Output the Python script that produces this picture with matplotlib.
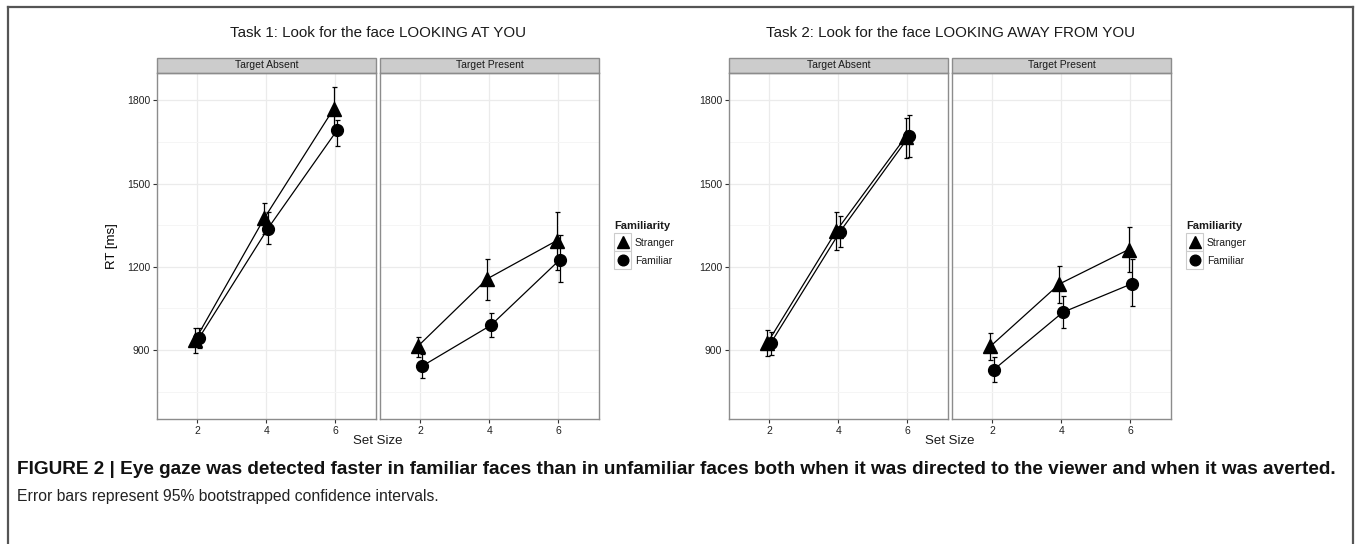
import numpy as np
import matplotlib
matplotlib.use('Agg')
import matplotlib.pyplot as plt
from matplotlib.patches import Rectangle
from matplotlib.lines import Line2D

plt.rcParams['font.family'] = ['Liberation Sans', 'DejaVu Sans']

# ---- data ----
set_size = [2, 4, 6]
series_names = ['Stranger', 'Familiar']
conditions = ['Target Absent', 'Target Present']
task_titles = ['Task 1: Look for the face LOOKING AT YOU',
               'Task 2: Look for the face LOOKING AWAY FROM YOU']

# task 1
t1_absent_stranger = [937, 1376, 1769]
t1_absent_stranger_lo = [889, 1320, 1694]
t1_absent_stranger_hi = [981, 1431, 1848]
t1_absent_familiar = [942, 1338, 1692]
t1_absent_familiar_lo = [907, 1283, 1637]
t1_absent_familiar_hi = [980, 1396, 1730]
t1_present_stranger = [915, 1157, 1294]
t1_present_stranger_lo = [873, 1081, 1190]
t1_present_stranger_hi = [947, 1229, 1399]
t1_present_familiar = [841, 989, 1226]
t1_present_familiar_lo = [799, 945, 1144]
t1_present_familiar_hi = [885, 1034, 1313]

# task 2
t2_absent_stranger = [925, 1330, 1668]
t2_absent_stranger_lo = [877, 1259, 1591]
t2_absent_stranger_hi = [973, 1399, 1737]
t2_absent_familiar = [925, 1326, 1670]
t2_absent_familiar_lo = [882, 1270, 1596]
t2_absent_familiar_hi = [966, 1384, 1748]
t2_present_stranger = [913, 1138, 1262]
t2_present_stranger_lo = [865, 1069, 1180]
t2_present_stranger_hi = [961, 1203, 1344]
t2_present_familiar = [829, 1036, 1139]
t2_present_familiar_lo = [785, 978, 1060]
t2_present_familiar_hi = [873, 1093, 1228]

caption_bold = ('FIGURE 2 | Eye gaze was detected faster in familiar faces than in unfamiliar '
                'faces both when it was directed to the viewer and when it was averted.')
caption_rest = 'Error bars represent 95% bootstrapped confidence intervals.'

panels = {
    (0, 0): [(t1_absent_stranger, t1_absent_stranger_lo, t1_absent_stranger_hi),
             (t1_absent_familiar, t1_absent_familiar_lo, t1_absent_familiar_hi)],
    (0, 1): [(t1_present_stranger, t1_present_stranger_lo, t1_present_stranger_hi),
             (t1_present_familiar, t1_present_familiar_lo, t1_present_familiar_hi)],
    (1, 0): [(t2_absent_stranger, t2_absent_stranger_lo, t2_absent_stranger_hi),
             (t2_absent_familiar, t2_absent_familiar_lo, t2_absent_familiar_hi)],
    (1, 1): [(t2_present_stranger, t2_present_stranger_lo, t2_present_stranger_hi),
             (t2_present_familiar, t2_present_familiar_lo, t2_present_familiar_hi)],
}

W, H = 1355, 544
fig = plt.figure(figsize=(W / 100, H / 100), dpi=100)

markers = ['^', 'o']
msizes = [9.5, 8.5]
dodge = [-0.05, 0.05]
panel_left = [[157, 380], [729, 952]]
panel_w = 219
top_px, bot_px = 73, 419
strip_h = 15


def fx(px):
    return px / W


def fy(py):
    return 1 - py / H


for t in range(2):
    for c in range(2):
        ax = fig.add_axes([fx(panel_left[t][c]), fy(bot_px), fx(panel_w), (bot_px - top_px) / H])
        for s, (vals, lo, hi) in enumerate(panels[(t, c)]):
            xs = np.array(set_size) + dodge[s]
            vals = np.array(vals)
            yerr = [vals - np.array(lo), np.array(hi) - vals]
            ax.errorbar(xs, vals, yerr=yerr, fmt='none', ecolor='black',
                        elinewidth=0.9, capsize=1.8, capthick=0.9, zorder=3)
            ax.plot(xs, vals, color='black', lw=0.9, marker=markers[s],
                    ms=msizes[s], mec='black', mfc='black', zorder=4)
        ax.set_xlim(0.84, 7.18)
        ax.set_ylim(651, 1899)
        ax.set_xticks(set_size)
        ax.set_yticks([900, 1200, 1500, 1800])
        ax.set_yticks([750, 1050, 1350, 1650], minor=True)
        ax.grid(True, which='major', color='#ebebeb', lw=0.9)
        ax.grid(True, which='minor', axis='y', color='#f5f5f5', lw=0.7)
        ax.set_axisbelow(True)
        for sp in ax.spines.values():
            sp.set_color('#8c8c8c')
            sp.set_linewidth(1.0)
        ax.tick_params(axis='both', which='major', length=3, width=0.8,
                       color='#333333', labelsize=7.5, labelcolor='#222222', pad=2)
        ax.tick_params(axis='both', which='minor', length=0)
        if c == 1:
            ax.tick_params(axis='y', which='major', left=False, labelleft=False)
        if c == 0 and t == 0:
            ax.set_ylabel('RT [ms]', fontsize=9.5, labelpad=6)
        # facet strip
        strip = Rectangle((0, 1), 1, strip_h / (bot_px - top_px), transform=ax.transAxes,
                          facecolor='#cccccc', edgecolor='#8c8c8c', lw=1.0, clip_on=False)
        ax.add_patch(strip)
        ax.text(0.5, 1 + strip_h / 2 / (bot_px - top_px), conditions[c], transform=ax.transAxes,
                ha='center', va='center', fontsize=7.5, color='#1a1a1a')

    mid = panel_left[t][1] - 2
    fig.text(fx(mid), fy(33), task_titles[t], ha='center', va='center', fontsize=10.9,
             color='#1a1a1a')
    fig.text(fx(mid), fy(441), 'Set Size', ha='center', va='center', fontsize=9.5,
             color='#1a1a1a')

    # legend drawn by hand
    lx = panel_left[t][1] + panel_w + 15
    fig.text(fx(lx), fy(226), 'Familiarity', ha='left', va='center', fontsize=8,
             fontweight='bold', color='#1a1a1a')
    for s, name in enumerate(series_names):
        ky = 233 + s * 18
        fig.patches.append(Rectangle((fx(lx), fy(ky + 18)), fx(17), 18 / H,
                                     transform=fig.transFigure, facecolor='white',
                                     edgecolor='#cccccc', lw=0.8))
        fig.lines.append(Line2D([fx(lx + 8.5)], [fy(ky + 9)], transform=fig.transFigure,
                                marker=markers[s], ms=msizes[s] * 0.9, color='black', ls='none'))
        fig.text(fx(lx + 21), fy(ky + 9.5), name, ha='left', va='center', fontsize=7.5,
                 color='#1a1a1a')

# outer frame of the figure
frame_kw = dict(transform=fig.transFigure, color='#555555', lw=1.6)
fig.lines.append(Line2D([fx(8), fx(1353)], [fy(7), fy(7)], **frame_kw))
fig.lines.append(Line2D([fx(8), fx(8)], [fy(7), 0], **frame_kw))
fig.lines.append(Line2D([fx(1353), fx(1353)], [fy(7), 0], **frame_kw))

fig.text(fx(17), fy(469), caption_bold, ha='left', va='center', fontsize=13.7,
         fontweight='bold', color='#111111')
fig.text(fx(17), fy(496), caption_rest, ha='left', va='center', fontsize=11.3,
         color='#222222')

fig.savefig('out.png', dpi=100)
